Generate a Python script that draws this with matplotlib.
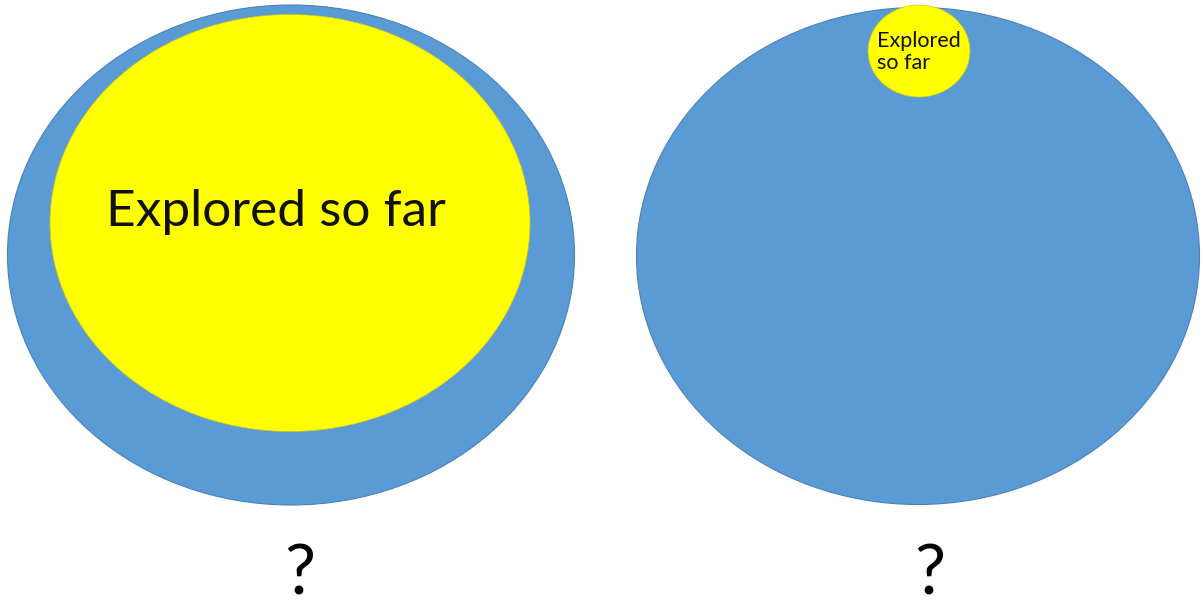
import matplotlib
matplotlib.use("Agg")
import matplotlib.pyplot as plt
from matplotlib.patches import Ellipse

# ellipses in pixel coords of the picture: (cx, cy, width, height)
outer_shapes = [(291, 255, 567, 500), (918, 256, 563, 497)]
inner_shapes = [(290, 223, 480, 417), (919, 51, 102, 92)]
inner_labels = ["Explored so far", "Explored\nso far"]
label_pos = [(276, 212), (877, 52)]
label_sizes = [37, 15.5]
label_align = ["center", "left"]
question_pos = [(300, 575), (930, 575)]

BLUE = "#5b9bd5"
YELLOW = "#ffff00"

fig = plt.figure(figsize=(12.03, 6.09), dpi=100)
ax = fig.add_axes([0, 0, 1, 1])
ax.set_xlim(0, 1203)
ax.set_ylim(609, 0)
ax.axis("off")

for cx, cy, w, h in outer_shapes:
    ax.add_patch(Ellipse((cx, cy), w, h, facecolor=BLUE, edgecolor="#4a82b8", lw=0.8))
for cx, cy, w, h in inner_shapes:
    ax.add_patch(Ellipse((cx, cy), w, h, facecolor=YELLOW, edgecolor="#c8c820", lw=0.5))

for (x, y), txt, fs, ha in zip(label_pos, inner_labels, label_sizes, label_align):
    ax.text(x, y, txt, fontsize=fs, family="Lato", ha=ha, va="center",
            color="#111111", linespacing=1.1)

for x, y in question_pos:
    ax.text(x, y, "?", fontsize=50, family="Lato",
            ha="center", va="center", color="black")

fig.savefig("out.png", dpi=100)
